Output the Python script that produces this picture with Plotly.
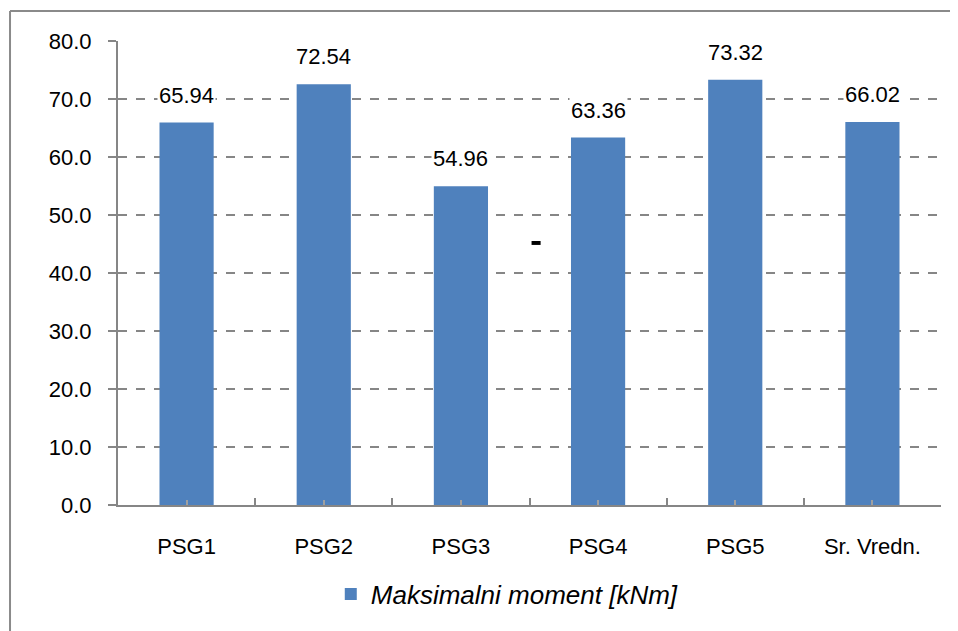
import plotly.graph_objects as go

categories = ["PSG1", "PSG2", "PSG3", "PSG4", "PSG5", "Sr. Vredn."]
values = [65.94, 72.54, 54.96, 63.36, 73.32, 66.02]
value_labels = ["65.94", "72.54", "54.96", "63.36", "73.32", "66.02"]
series_name = "Maksimalni moment [kNm]"
y_ticks = [0, 10, 20, 30, 40, 50, 60, 70, 80]
y_tick_labels = ["0.0", "10.0", "20.0", "30.0", "40.0", "50.0", "60.0", "70.0", "80.0"]

FONT = "Liberation Sans, Arial, sans-serif"
BLUE = "#4F81BD"
GRAY = "#868686"

pos = list(range(len(categories)))
bounds = [i - 0.5 for i in range(len(categories) + 1)]

fig = go.Figure()
fig.add_trace(go.Bar(
    x=pos, y=values, name=series_name,
    marker=dict(color=BLUE, line=dict(width=0)),
    width=0.395, showlegend=True,
))

for p, v, t in zip(pos, values, value_labels):
    fig.add_annotation(x=p, y=v, text=t, showarrow=False, yanchor="bottom",
                       yshift=13, bgcolor="white", borderpad=1,
                       font=dict(family=FONT, size=22, color="black"))

# stray dash artifact
fig.add_shape(type="rect", xref="paper", yref="paper", x0=0.5025, x1=0.5135, y0=0.5605, y1=0.569,
              line=dict(width=0), fillcolor="black")

# outer frame (extends past the right/bottom edges)
fig.add_shape(type="line", xref="paper", yref="paper", x0=-0.1312, x1=1.1, y0=1.0647, y1=1.0647,
              line=dict(color="#8a8a8a", width=2))
fig.add_shape(type="line", xref="paper", yref="paper", x0=-0.1312, x1=-0.1312, y0=1.0647, y1=-0.4,
              line=dict(color="#8a8a8a", width=2))

fig.update_layout(
    width=958, height=631,
    margin=dict(l=110, r=25, t=33, b=134),
    paper_bgcolor="white", plot_bgcolor="white",
    font=dict(family=FONT, size=22, color="black"),
    legend=dict(orientation="h", x=0.473, y=-0.192, xanchor="center", yanchor="middle",
                font=dict(family=FONT, size=26, style="italic"), itemwidth=30),
    xaxis=dict(range=[-0.5, len(categories) - 0.5], tickmode="array", tickvals=pos, ticktext=categories,
               showline=True, linecolor=GRAY, linewidth=2, ticks="inside",
               ticklen=5, tickcolor="#a0a0a0", tickwidth=2, ticklabelstandoff=21,
               minor=dict(tickmode="array", tickvals=bounds, ticks="inside", ticklen=7,
                          tickcolor=GRAY, tickwidth=2, showgrid=False),
               tickfont=dict(size=22), showgrid=False, zeroline=False),
    yaxis=dict(range=[0, 80], tickvals=y_ticks, ticktext=y_tick_labels,
               showline=True, linecolor=GRAY, linewidth=2, ticks="outside", ticklen=8,
               tickcolor=GRAY, tickwidth=2, ticklabelstandoff=12,
               showgrid=True, gridcolor=GRAY, griddash="dash", gridwidth=2,
               zeroline=False, tickfont=dict(size=22)),
)

fig.write_html("out.html")
